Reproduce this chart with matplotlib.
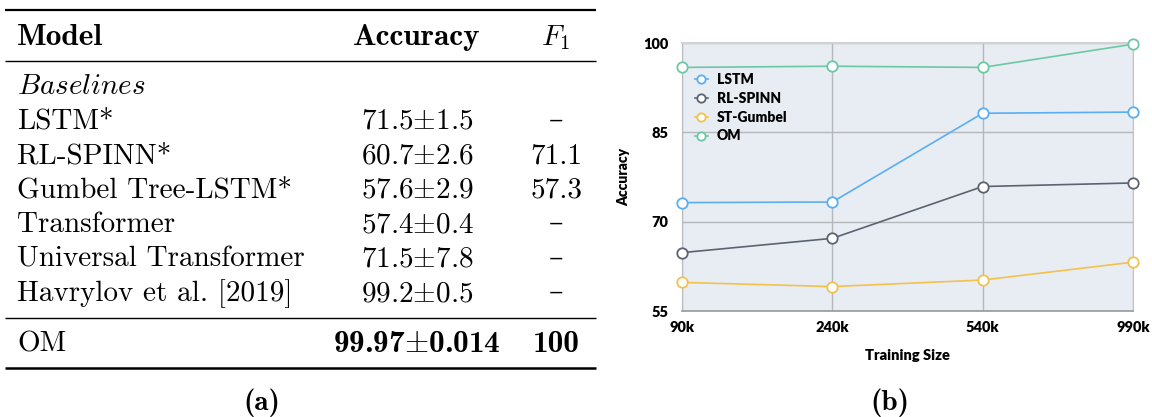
import matplotlib
matplotlib.use("Agg")
import matplotlib.pyplot as plt
import numpy as np

plt.rcParams['mathtext.fontset'] = 'cm'

# ---- table data (a)
models = ["LSTM*", "RL-SPINN*", "Gumbel Tree-LSTM*", "Transformer",
          "Universal Transformer", "Havrylov et al. [2019]"]
acc_mean = ["71.5", "60.7", "57.6", "57.4", "71.5", "99.2"]
acc_std = ["1.5", "2.6", "2.9", "0.4", "7.8", "0.5"]
f1_vals = ["\u2013", "71.1", "57.3", "\u2013", "\u2013", "\u2013"]
om_acc = ("99.97", "0.014")
om_f1 = "100"

# ---- chart data (b)
sizes = ["90k", "240k", "540k", "990k"]
lstm = [73.2, 73.3, 88.2, 88.4]
rl_spinn = [64.8, 67.2, 75.9, 76.5]
st_gumbel = [59.8, 59.1, 60.2, 63.2]
om = [95.9, 96.1, 95.9, 99.8]

W, H = 1152, 417
fig = plt.figure(figsize=(W / 100, H / 100), dpi=100)

# full figure axes in pixel coords for the table
tab = fig.add_axes([0, 0, 1, 1])
tab.set_xlim(0, W)
tab.set_ylim(H, 0)
tab.axis('off')

fs = 21
fsb = 22.5  # cmb10 is narrower than cmbx10, so a touch bigger
rm = ['cmr10', 'DejaVu Serif']
x_model, x_acc, x_f1 = 17, 417, 556

# rules
tab.plot([5, 596], [9.5, 9.5], color='black', lw=1.6, solid_capstyle='butt')
tab.plot([5, 596], [61, 61], color='black', lw=1.0, solid_capstyle='butt')
tab.plot([5, 596], [318, 318], color='black', lw=1.0, solid_capstyle='butt')
tab.plot([5, 596], [368, 368], color='black', lw=1.8, solid_capstyle='butt')

# header
tab.text(x_model, 45, "Model", family='cmb10', fontsize=fsb, va='baseline')
tab.text(x_acc, 45, "Accuracy", family='cmb10', fontsize=fsb, va='baseline', ha='center')
tab.text(x_f1, 45, r"$F_1$", fontsize=fs, va='baseline', ha='center')

tab.text(x_model, 94, r"$\mathit{Baselines}$", fontsize=fs, va='baseline')
base0, step = 128.5, 34.5
for i, name in enumerate(models):
    yb = base0 + i * step
    tab.text(x_model, yb, name, family=rm, fontsize=fs, va='baseline')
    tab.text(x_acc, yb, acc_mean[i] + r"$\pm$" + acc_std[i], family=rm,
             fontsize=fs, va='baseline', ha='center')
    tab.text(x_f1, yb, f1_vals[i], family=rm, fontsize=fs, va='baseline', ha='center')

tab.text(x_model, 352, "OM", family=rm, fontsize=fs, va='baseline')
tab.text(x_acc, 352, om_acc[0] + r"$\pm$" + om_acc[1], family='cmb10',
         fontsize=fsb, va='baseline', ha='center')
tab.text(x_f1, 352, om_f1, family='cmb10', fontsize=fsb, va='baseline', ha='center')

tab.text(262, 403, "(a)", family='cmb10', fontsize=21, va='center', ha='center')
tab.text(890, 403, "(b)", family='cmb10', fontsize=21, va='center', ha='center')

# ---- line chart
left, right, top, bottom = 682, 1133, 43, 311
ax = fig.add_axes([left / W, 1 - bottom / H, (right - left) / W, (bottom - top) / H])
ax.set_facecolor('#e7edf3')
x = np.arange(len(sizes))

series = [("LSTM", lstm, '#5aaef3'),
          ("RL-SPINN", rl_spinn, '#5b6370'),
          ("ST-Gumbel", st_gumbel, '#f3c14c'),
          ("OM", om, '#6cc8a2')]
for label, vals, col in series:
    ax.plot(x, vals, color=col, lw=1.2, marker='o', ms=7.5, mfc='white',
            mec=col, mew=1.3, label=label, zorder=3, clip_on=False)

ax.set_xlim(0, 3)
ax.set_ylim(55, 100)
ax.set_xticks(x)
ax.set_xticklabels(sizes)
ax.set_yticks([55, 70, 85, 100])
ax.grid(True, color='#b4b8bc', lw=1.0, zorder=1)
ax.set_axisbelow(True)
ax.tick_params(length=0, labelsize=10.5)
ax.tick_params(axis='y', pad=10)
ax.tick_params(axis='x', pad=7)
for t in ax.get_xticklabels() + ax.get_yticklabels():
    t.set_family('Lato')
    t.set_fontweight('heavy')

ax.spines['top'].set_color('#d2d2d2')
ax.spines['top'].set_linewidth(1.5)
ax.spines['left'].set_color('#b8bcc0')
ax.spines['right'].set_color('#c4c4c4')
ax.spines['bottom'].set_color('#9aa0a6')
ax.spines['bottom'].set_linewidth(1.3)

ax.set_ylabel("Accuracy", family='Lato', fontweight='heavy', fontsize=10, labelpad=9)
ax.set_xlabel("Training Size", family='Lato', fontweight='heavy', fontsize=10.5, labelpad=11)

leg = ax.legend(loc='upper left', bbox_to_anchor=(0.0, 0.935), frameon=False,
                handlelength=1.0, handletextpad=0.6, labelspacing=0.42,
                prop={'family': 'Lato', 'weight': 'heavy', 'size': 10},
                markerscale=0.8)

fig.savefig("out.png", dpi=100)
